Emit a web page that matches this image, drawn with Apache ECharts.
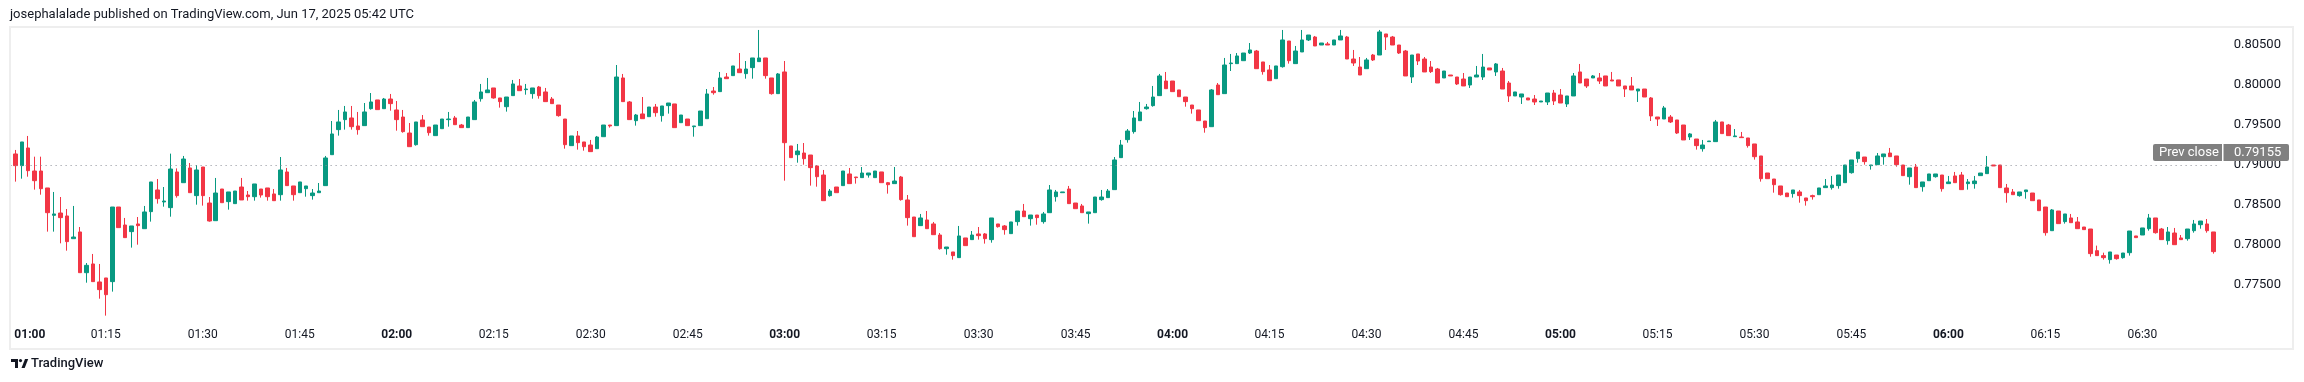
<!DOCTYPE html>
<html><head><meta charset="utf-8">
<script src="https://cdn.jsdelivr.net/npm/echarts@6/dist/echarts.min.js"></script>
<style>html,body{margin:0;padding:0;background:#fff}#c{width:2304px;height:382px}</style>
</head><body><div id="c"></div>
<script>
const opens=[0.79063,0.79138,0.78992,0.79213,0.78925,0.78925,0.78713,0.78371,0.78400,0.78363,
0.78079,0.78163,0.77654,0.77763,0.77538,0.77588,0.77542,0.78475,0.78250,0.78167,
0.78263,0.78204,0.78417,0.78688,0.78538,0.78467,0.78913,0.78779,0.78963,0.78617,
0.78975,0.78525,0.78304,0.78700,0.78542,0.78517,0.78725,0.78625,0.78604,0.78700,
0.78713,0.78638,0.78629,0.78913,0.78738,0.78654,0.78704,0.78617,0.78654,0.78742,
0.79129,0.79442,0.79567,0.79588,0.79488,0.79492,0.79704,0.79813,0.79704,0.79825,
0.79688,0.79600,0.79400,0.79254,0.79563,0.79475,0.79367,0.79454,0.79567,0.79588,
0.79500,0.79467,0.79567,0.79829,0.79904,0.79963,0.79838,0.79729,0.79867,0.79988,
0.79942,0.79892,0.79975,0.79913,0.79825,0.79750,0.79575,0.79242,0.79363,0.79288,
0.79250,0.79204,0.79354,0.79500,0.79492,0.80088,0.79788,0.79554,0.79638,0.79604,
0.79725,0.79617,0.79742,0.79763,0.79529,0.79575,0.79479,0.79492,0.79579,0.79925,
0.79917,0.80100,0.80117,0.80200,0.80142,0.80217,0.80292,0.80338,0.80088,0.79892,
0.80163,0.79238,0.79129,0.79150,0.79125,0.78988,0.78875,0.78617,0.78725,0.78742,
0.78888,0.78850,0.78842,0.78875,0.78842,0.78913,0.78779,0.78767,0.78850,0.78563,
0.78350,0.78242,0.78313,0.78263,0.78125,0.77954,0.77913,0.77842,0.78088,0.78067,
0.78138,0.78138,0.78067,0.78263,0.78238,0.78142,0.78292,0.78425,0.78329,0.78375,
0.78292,0.78404,0.78604,0.78654,0.78700,0.78525,0.78488,0.78392,0.78404,0.78567,
0.78592,0.78692,0.79092,0.79317,0.79417,0.79554,0.79704,0.79742,0.79867,0.80050,
0.80050,0.79938,0.79850,0.79750,0.79688,0.79550,0.79479,0.80000,0.79892,0.80267,
0.80267,0.80304,0.80400,0.80425,0.80288,0.80188,0.80079,0.80229,0.80550,0.80267,
0.80413,0.80563,0.80600,0.80500,0.80513,0.80500,0.80563,0.80600,0.80325,0.80225,
0.80204,0.80375,0.80375,0.80638,0.80600,0.80500,0.80425,0.80100,0.80388,0.80325,
0.80225,0.80200,0.80088,0.80125,0.80100,0.80075,0.80000,0.80100,0.80100,0.80213,
0.80163,0.80175,0.80025,0.79863,0.79850,0.79838,0.79825,0.79788,0.79788,0.79900,
0.79875,0.79763,0.79863,0.80163,0.80075,0.80088,0.80088,0.80113,0.80063,0.80063,
0.79988,0.79988,0.79925,0.79950,0.79838,0.79600,0.79575,0.79600,0.79563,0.79500,
0.79350,0.79325,0.79204,0.79292,0.79292,0.79538,0.79500,0.79354,0.79350,0.79338,
0.79263,0.79113,0.78900,0.78825,0.78738,0.78650,0.78642,0.78663,0.78588,0.78617,
0.78629,0.78717,0.78717,0.78742,0.78779,0.78904,0.79079,0.79100,0.78992,0.79004,
0.79104,0.79150,0.79113,0.79000,0.78854,0.78975,0.78729,0.78804,0.78854,0.78875,
0.78767,0.78863,0.78875,0.78767,0.78767,0.78867,0.78892,0.79000,0.79000,0.78713,
0.78663,0.78617,0.78667,0.78650,0.78563,0.78475,0.78179,0.78425,0.78292,0.78338,
0.78288,0.78225,0.78200,0.77929,0.77867,0.77817,0.77875,0.77842,0.77904,0.78113,
0.78125,0.78204,0.78338,0.78200,0.78054,0.78150,0.78088,0.78079,0.78179,0.78254,
0.78263,0.78163];
const highs=[0.79154,0.79188,0.79288,0.79363,0.79104,0.79104,0.78713,0.78663,0.78600,0.78450,
0.78488,0.78225,0.77775,0.77888,0.77763,0.77588,0.78475,0.78475,0.78338,0.78238,
0.78350,0.78488,0.78788,0.78825,0.78725,0.79142,0.78958,0.79113,0.79025,0.79000,
0.78975,0.78600,0.78838,0.78700,0.78663,0.78675,0.78838,0.78675,0.78763,0.78700,
0.78713,0.78700,0.79100,0.78963,0.78738,0.78788,0.78738,0.78700,0.78775,0.79113,
0.79550,0.79688,0.79738,0.79738,0.79663,0.79775,0.79900,0.79813,0.79838,0.79888,
0.79800,0.79688,0.79525,0.79538,0.79625,0.79475,0.79500,0.79575,0.79663,0.79613,
0.79513,0.79600,0.79813,0.80013,0.80088,0.79963,0.79838,0.79850,0.80063,0.80075,
0.80013,0.79963,0.79988,0.79963,0.79850,0.79750,0.79575,0.79363,0.79425,0.79288,
0.79313,0.79363,0.79500,0.79500,0.80250,0.80138,0.79800,0.79638,0.79850,0.79725,
0.79763,0.79738,0.79775,0.79763,0.79625,0.79575,0.79488,0.79675,0.79950,0.79975,
0.80163,0.80150,0.80238,0.80400,0.80300,0.80338,0.80688,0.80338,0.80088,0.80150,
0.80300,0.79238,0.79263,0.79275,0.79125,0.79000,0.78938,0.78700,0.78725,0.78925,
0.78963,0.78850,0.78975,0.78900,0.78925,0.78913,0.78788,0.78975,0.78863,0.78625,
0.78350,0.78388,0.78425,0.78288,0.78150,0.77975,0.77913,0.78238,0.78088,0.78175,
0.78225,0.78150,0.78338,0.78263,0.78250,0.78288,0.78425,0.78513,0.78375,0.78375,
0.78413,0.78750,0.78688,0.78663,0.78738,0.78525,0.78513,0.78413,0.78600,0.78688,
0.78700,0.79100,0.79313,0.79450,0.79675,0.79788,0.79763,0.79988,0.80138,0.80163,
0.80050,0.79938,0.79850,0.79750,0.79688,0.79550,0.79950,0.80025,0.80338,0.80388,
0.80400,0.80400,0.80525,0.80438,0.80288,0.80250,0.80238,0.80688,0.80550,0.80488,
0.80688,0.80625,0.80613,0.80525,0.80538,0.80563,0.80688,0.80613,0.80438,0.80350,
0.80338,0.80388,0.80688,0.80638,0.80613,0.80500,0.80438,0.80375,0.80388,0.80350,
0.80300,0.80213,0.80175,0.80125,0.80100,0.80150,0.80100,0.80238,0.80388,0.80213,
0.80275,0.80213,0.80050,0.79913,0.79888,0.79838,0.79875,0.79800,0.79900,0.79938,
0.79950,0.79863,0.80150,0.80263,0.80075,0.80125,0.80150,0.80113,0.80163,0.80063,
0.79988,0.80100,0.79950,0.79950,0.79850,0.79600,0.79738,0.79625,0.79563,0.79500,
0.79400,0.79325,0.79313,0.79300,0.79563,0.79538,0.79513,0.79450,0.79413,0.79338,
0.79263,0.79113,0.78900,0.78825,0.78738,0.78650,0.78688,0.78688,0.78588,0.78629,
0.78713,0.78825,0.78863,0.78875,0.79000,0.79063,0.79163,0.79100,0.79000,0.79150,
0.79138,0.79213,0.79113,0.79000,0.78963,0.79013,0.78788,0.78888,0.78888,0.78875,
0.78863,0.78913,0.78913,0.78825,0.78863,0.78900,0.79113,0.79000,0.79000,0.78763,
0.78700,0.78663,0.78688,0.78650,0.78563,0.78475,0.78450,0.78425,0.78388,0.78388,
0.78350,0.78225,0.78200,0.77992,0.77904,0.77913,0.77875,0.77900,0.78175,0.78113,
0.78213,0.78388,0.78338,0.78213,0.78225,0.78213,0.78125,0.78200,0.78313,0.78300,
0.78325,0.78163];
const lows=[0.79054,0.78792,0.78829,0.78854,0.78692,0.78629,0.78167,0.78167,0.78021,0.77929,
0.78079,0.77654,0.77529,0.77542,0.77329,0.77117,0.77417,0.78217,0.78092,0.77967,
0.78004,0.78204,0.78292,0.78517,0.78479,0.78354,0.78592,0.78779,0.78654,0.78504,
0.78492,0.78292,0.78304,0.78529,0.78442,0.78517,0.78563,0.78554,0.78554,0.78592,
0.78554,0.78554,0.78554,0.78742,0.78554,0.78654,0.78604,0.78567,0.78654,0.78742,
0.79129,0.79367,0.79442,0.79442,0.79379,0.79492,0.79692,0.79692,0.79704,0.79679,
0.79429,0.79404,0.79229,0.79242,0.79479,0.79367,0.79367,0.79454,0.79479,0.79504,
0.79467,0.79467,0.79567,0.79792,0.79904,0.79829,0.79717,0.79667,0.79867,0.79929,
0.79879,0.79829,0.79829,0.79792,0.79767,0.79604,0.79204,0.79242,0.79192,0.79179,
0.79167,0.79204,0.79354,0.79467,0.79492,0.79792,0.79567,0.79492,0.79579,0.79604,
0.79604,0.79542,0.79642,0.79467,0.79529,0.79492,0.79354,0.79492,0.79579,0.79879,
0.79917,0.80079,0.80117,0.80154,0.80079,0.80079,0.80292,0.80079,0.79879,0.79892,
0.78804,0.79092,0.79029,0.79004,0.78742,0.78729,0.78554,0.78604,0.78654,0.78742,
0.78767,0.78767,0.78842,0.78842,0.78842,0.78779,0.78642,0.78767,0.78554,0.78242,
0.78104,0.78242,0.78204,0.78129,0.77942,0.77879,0.77817,0.77842,0.77992,0.78067,
0.78067,0.78017,0.78029,0.78217,0.78129,0.78142,0.78242,0.78354,0.78242,0.78254,
0.78267,0.78404,0.78542,0.78654,0.78517,0.78454,0.78404,0.78267,0.78404,0.78554,
0.78592,0.78692,0.79092,0.79279,0.79392,0.79554,0.79692,0.79729,0.79867,0.79954,
0.79917,0.79854,0.79729,0.79642,0.79554,0.79404,0.79479,0.79879,0.79892,0.80175,
0.80267,0.80304,0.80388,0.80204,0.80129,0.80054,0.80079,0.80217,0.80267,0.80267,
0.80413,0.80550,0.80488,0.80500,0.80500,0.80500,0.80563,0.80325,0.80238,0.80125,
0.80204,0.80300,0.80375,0.80438,0.80500,0.80388,0.80113,0.80025,0.80250,0.80163,
0.80150,0.80025,0.80088,0.80113,0.80000,0.79988,0.79963,0.80100,0.80063,0.80188,
0.80113,0.79950,0.79788,0.79863,0.79763,0.79813,0.79750,0.79788,0.79750,0.79750,
0.79775,0.79725,0.79863,0.80025,0.79963,0.80088,0.80013,0.79988,0.80050,0.79988,
0.79850,0.79938,0.79788,0.79850,0.79550,0.79488,0.79575,0.79525,0.79388,0.79313,
0.79313,0.79192,0.79167,0.79292,0.79292,0.79392,0.79367,0.79354,0.79342,0.79217,
0.79067,0.78792,0.78829,0.78654,0.78617,0.78604,0.78592,0.78529,0.78492,0.78567,
0.78629,0.78717,0.78692,0.78704,0.78779,0.78892,0.79029,0.79004,0.78942,0.79004,
0.79004,0.79104,0.78979,0.78867,0.78754,0.78717,0.78667,0.78804,0.78842,0.78667,
0.78767,0.78779,0.78692,0.78692,0.78704,0.78867,0.78892,0.78988,0.78717,0.78529,
0.78629,0.78604,0.78579,0.78554,0.78429,0.78117,0.78179,0.78267,0.78267,0.78279,
0.78204,0.78192,0.77854,0.77867,0.77817,0.77767,0.77817,0.77829,0.77867,0.78092,
0.78125,0.78179,0.78142,0.78067,0.78004,0.78004,0.78067,0.78054,0.78154,0.78204,
0.78154,0.77892];
const closes=[0.79146,0.78992,0.79288,0.78929,0.78804,0.78704,0.78404,0.78388,0.78342,0.78042,
0.78100,0.77654,0.77746,0.77542,0.77442,0.77379,0.78475,0.78217,0.78092,0.78238,
0.78242,0.78413,0.78788,0.78579,0.78550,0.78950,0.78617,0.79075,0.78654,0.78938,
0.78617,0.78300,0.78650,0.78529,0.78663,0.78675,0.78563,0.78604,0.78763,0.78625,
0.78604,0.78554,0.78938,0.78742,0.78629,0.78788,0.78738,0.78650,0.78675,0.79088,
0.79388,0.79538,0.79663,0.79479,0.79442,0.79663,0.79788,0.79692,0.79825,0.79767,
0.79567,0.79417,0.79229,0.79538,0.79479,0.79404,0.79500,0.79575,0.79575,0.79504,
0.79467,0.79600,0.79788,0.79913,0.79938,0.79838,0.79792,0.79850,0.80013,0.79929,
0.79950,0.79963,0.79867,0.79792,0.79767,0.79617,0.79254,0.79363,0.79279,0.79229,
0.79167,0.79350,0.79500,0.79488,0.80100,0.79792,0.79567,0.79625,0.79579,0.79725,
0.79654,0.79738,0.79775,0.79467,0.79625,0.79492,0.79488,0.79675,0.79888,0.79904,
0.80088,0.80079,0.80238,0.80154,0.80200,0.80338,0.80338,0.80117,0.79892,0.80138,
0.79279,0.79092,0.79175,0.79079,0.78967,0.78854,0.78554,0.78675,0.78654,0.78925,
0.78767,0.78842,0.78900,0.78900,0.78925,0.78779,0.78754,0.78800,0.78567,0.78342,
0.78104,0.78338,0.78204,0.78129,0.77954,0.77975,0.77867,0.78113,0.77992,0.78125,
0.78117,0.78079,0.78338,0.78229,0.78192,0.78288,0.78425,0.78354,0.78375,0.78342,
0.78388,0.78688,0.78663,0.78663,0.78517,0.78454,0.78404,0.78413,0.78600,0.78600,
0.78675,0.79063,0.79250,0.79425,0.79588,0.79663,0.79725,0.79850,0.80113,0.79954,
0.79917,0.79854,0.79792,0.79704,0.79554,0.79467,0.79938,0.79879,0.80250,0.80275,
0.80363,0.80400,0.80438,0.80204,0.80167,0.80054,0.80238,0.80563,0.80304,0.80425,
0.80563,0.80625,0.80488,0.80525,0.80500,0.80563,0.80613,0.80325,0.80275,0.80125,
0.80313,0.80313,0.80663,0.80600,0.80500,0.80400,0.80113,0.80375,0.80300,0.80163,
0.80167,0.80025,0.80175,0.80113,0.80013,0.79988,0.80100,0.80125,0.80225,0.80188,
0.80263,0.79950,0.79863,0.79913,0.79888,0.79813,0.79788,0.79800,0.79900,0.79800,
0.79775,0.79863,0.80113,0.80025,0.79988,0.80113,0.80050,0.79988,0.80050,0.79988,
0.79950,0.79938,0.79950,0.79850,0.79613,0.79575,0.79713,0.79538,0.79400,0.79313,
0.79388,0.79242,0.79250,0.79300,0.79538,0.79392,0.79367,0.79363,0.79342,0.79242,
0.79104,0.78829,0.78829,0.78754,0.78629,0.78604,0.78688,0.78617,0.78554,0.78604,
0.78713,0.78738,0.78750,0.78875,0.79000,0.79063,0.79163,0.79042,0.79000,0.79113,
0.79138,0.79104,0.79004,0.78867,0.78963,0.78717,0.78788,0.78888,0.78888,0.78704,
0.78788,0.78779,0.78692,0.78788,0.78800,0.78900,0.78975,0.78988,0.78717,0.78654,
0.78629,0.78663,0.78688,0.78554,0.78429,0.78154,0.78438,0.78267,0.78388,0.78279,
0.78204,0.78192,0.77892,0.77867,0.77842,0.77913,0.77829,0.77900,0.78175,0.78092,
0.78213,0.78338,0.78154,0.78067,0.78163,0.78004,0.78067,0.78200,0.78263,0.78300,
0.78179,0.77917];
const prevClose = 0.79155;
const startMinute = 60; // 01:00
const labelEvery = 15;

const times = [];
for (let k = 0; k < opens.length; k++) {
  const m = startMinute + k;
  times.push(String(Math.floor(m / 60)).padStart(2, '0') + ':' + String(m % 60).padStart(2, '0'));
}
const ohlc = opens.map((o, i) => [o, closes[i], lows[i], highs[i]]);

const UP = '#089981', DOWN = '#F23645', TXT = '#131722';
const FONT = 'Roboto, "Noto Sans", sans-serif';

const chart = echarts.init(document.getElementById('c'), null, {renderer: 'canvas'});
chart.setOption({
  animation: false,
  backgroundColor: '#ffffff',
  grid: {left: 5.6, width: 2211.1, top: 25, height: 300, containLabel: false},
  xAxis: {
    type: 'category', data: times, boundaryGap: true,
    axisLine: {show: false}, axisTick: {show: false}, splitLine: {show: false},
    axisLabel: {
      interval: (idx) => idx % labelEvery === 0,
      margin: 4,
      formatter: (v, idx) => idx === 0 ? '{f|' + v + '}' : (v.endsWith(':00') ? '{b|' + v + '}' : '{n|' + v + '}'),
      rich: {
        f: {fontSize: 12, fontWeight: 'bold', color: TXT, fontFamily: FONT, padding: [0, 0, 0, 42]},
        b: {fontSize: 12, fontWeight: 'bold', color: TXT, fontFamily: FONT},
        n: {fontSize: 12, color: TXT, fontFamily: FONT}
      }
    }
  },
  yAxis: {
    type: 'value', position: 'right', min: 0.77, max: 0.8075, interval: 0.005, scale: true,
    axisLine: {show: false}, axisTick: {show: false}, splitLine: {show: false},
    axisLabel: {
      margin: 17, fontSize: 13, color: TXT, fontFamily: FONT,
      formatter: (v) => {
        const k = Math.round(v / 0.005);
        if (Math.abs(v - k * 0.005) > 1e-7 || v < 0.7749 || v > 0.8051) return '';
        return v.toFixed(5);
      }
    }
  },
  series: [{
    type: 'candlestick', data: ohlc, barWidth: 4,
    itemStyle: {color: UP, color0: DOWN, borderColor: UP, borderColor0: DOWN, borderWidth: 1},
    markLine: {
      silent: true, symbol: ['none', 'none'],
      data: [{yAxis: prevClose}],
      lineStyle: {color: '#8a8d96', type: [1, 4], width: 1},
      label: {show: false}
    }
  }]
});

const py = chart.convertToPixel({yAxisIndex: 0}, prevClose);
chart.setOption({
  graphic: [
    {type: 'rect', z: 90, shape: {x: 0, y: 20, width: 9, height: 306}, style: {fill: '#ffffff'}},
    {type: 'rect', z: 91, shape: {x: 10, y: 27, width: 2283, height: 322}, style: {fill: 'none', stroke: '#EEEEEE', lineWidth: 2}},
    {type: 'text', z: 92, style: {text: 'josephalalade published on TradingView.com, Jun 17, 2025 05:42 UTC', x: 10, y: 15, font: '13px ' + FONT, fill: TXT, textAlign: 'left', textVerticalAlign: 'middle', align: 'left', verticalAlign: 'middle'}},
    {type: 'rect', z: 95, shape: {x: 2153, y: py - 8.5, width: 136, height: 17, r: 2}, style: {fill: '#808080'}},
    {type: 'rect', z: 96, shape: {x: 2222, y: py - 8.5, width: 1.5, height: 17}, style: {fill: '#ffffff'}},
    {type: 'text', z: 97, style: {text: 'Prev close', x: 2159, y: py, font: '13px ' + FONT, fill: '#ffffff', textAlign: 'left', textVerticalAlign: 'middle', align: 'left', verticalAlign: 'middle'}},
    {type: 'text', z: 97, style: {text: prevClose.toFixed(5), x: 2234, y: py, font: '13px ' + FONT, fill: '#ffffff', textAlign: 'left', textVerticalAlign: 'middle', align: 'left', verticalAlign: 'middle'}},
    {type: 'rect', z: 92, shape: {x: 11, y: 359, width: 7, height: 3}, style: {fill: TXT}},
    {type: 'rect', z: 92, shape: {x: 15, y: 359, width: 3, height: 9}, style: {fill: TXT}},
    {type: 'circle', z: 92, shape: {cx: 20.5, cy: 360.6, r: 1.6}, style: {fill: TXT}},
    {type: 'polygon', z: 92, shape: {points: [[21.5, 368], [25, 359], [28.2, 359], [24.7, 368]]}, style: {fill: TXT}},
    {type: 'text', z: 92, style: {text: 'TradingView', x: 31, y: 364, font: '500 13px ' + FONT, fill: TXT, textAlign: 'left', textVerticalAlign: 'middle', align: 'left', verticalAlign: 'middle'}}
  ]
});
</script></body></html>
